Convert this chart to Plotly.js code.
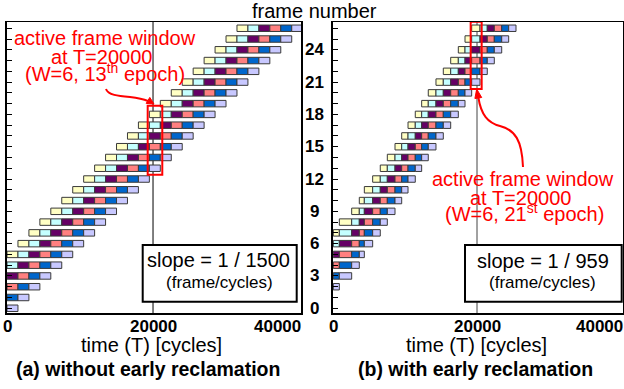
<!DOCTYPE html>
<html><head><meta charset="utf-8">
<script src="https://cdn.plot.ly/plotly-3.0.1.min.js"></script>
<style>html,body{margin:0;padding:0;background:#fff}#chart{width:624px;height:389px}</style>
</head><body><div id="chart"></div>
<script>
// ---------------- data ----------------
const phaseColors = ['#ffffc4', '#c4ffff', '#660066', '#ff8080', '#0066cc', '#c8c8ff'];
// (a) without early reclamation: frames shown and epoch boundaries (cycles)
const framesA = [0,1,2,3,4,5,6,7,8,9,10,11,12,13,14,15,16,17,18,19,20,21,22,23,24,25,26];
const epochBoundsA = [0,1500,3000,4500,6000,7500,9000,10500,12000,13500,15000,16500,18000,19500,
  21000,22500,24000,25500,27000,28500,30000,31500,33000,34500,36000,37500,39000,40500];
const firstFrameOfEpoch0A = 5;   // frame whose first phase occupies epoch 0
// (b) with early reclamation
const framesB = [2,3,4,5,6,7,8,9,10,11,12,13,14,15,16,17,18,19,20,21,22,23,24,25,26];
const epochBoundsB = [0,840,2560,3620,4320,5480,6540,7520,8590,9520,10400,11410,12300,13220,
  14290,15310,16340,17400,18330,19260,20420,21430,22410,23440,24410,25430];
const firstFrameOfEpoch0B = 7;
const markTime = 20000;
const yTickVals = [0,3,6,9,12,15,18,21,24];
const xTickVals = [0,20000,40000];
const xTickText = ['0','20000','40000'];
const slopeA = 'slope = 1 / 1500';
const slopeB = 'slope = 1 / 959';
const windowA = {lo: 12.39, hi: 18.8, t0: 19270, t1: 21270};
const windowB = {lo: 20.35, hi: 26.6, t0: 19120, t1: 20650};

// ---------------- geometry helpers ----------------
const W = 624, H = 389, mT = 22, mB = 76, PH = H - mT - mB;
const PX = p => p / W;
const PY = p => (H - mB - p) / PH;
const FONT = 'Liberation Sans, Arial, sans-serif';

function buildTraces(frames, bounds, off, xa, ya) {
  const out = [];
  for (let k = 0; k < 6; k++) {
    const ys = [], xs = [], bs = [];
    frames.forEach(f => {
      const e = f + k - off;
      if (e >= 0 && e + 1 < bounds.length) {
        ys.push(f); bs.push(bounds[e]); xs.push(bounds[e + 1] - bounds[e]);
      }
    });
    out.push({type: 'bar', orientation: 'h', y: ys, x: xs, base: bs, width: 0.6,
      xaxis: xa, yaxis: ya, showlegend: false, hoverinfo: 'skip',
      marker: {color: phaseColors[k], line: {color: '#3a3a3a', width: 1}}});
  }
  return out;
}
const data = buildTraces(framesA, epochBoundsA, firstFrameOfEpoch0A, 'x', 'y')
  .concat(buildTraces(framesB, epochBoundsB, firstFrameOfEpoch0B, 'x2', 'y2'));

function pathPx(cmds) {
  return cmds.map(c => typeof c === 'string' ? c : (PX(c[0]).toFixed(5) + ',' + PY(c[1]).toFixed(5))).join(' ');
}

const ann = [];
function txt(text, x, yBottom, size, opts) {
  ann.push(Object.assign({text: text, xref: 'paper', yref: 'paper', x: PX(x), y: PY(yBottom),
    xanchor: 'center', yanchor: 'bottom', showarrow: false,
    font: {family: FONT, size: size, color: '#000'}}, opts || {}));
}
// x tick labels
[['x', 'x'], ['x2', 'x2']].forEach(([xr]) => {
  xTickVals.forEach((v, i) => {
    const last = i === xTickVals.length - 1;
    ann.push({text: xTickText[i], xref: xr, yref: 'paper', x: v, y: PY(338),
      xanchor: last ? 'right' : 'center', xshift: last ? 4 : 0, yanchor: 'bottom', showarrow: false,
      font: {family: FONT, size: 17, weight: 'bold', color: '#000'}});
  });
});
// y tick labels (shared, between panels)
yTickVals.forEach(v => ann.push({text: String(v), xref: 'paper', yref: 'y', x: PX(314), y: v,
  xanchor: 'center', yanchor: 'middle', showarrow: false,
  font: {family: FONT, size: 17, weight: 'bold', color: '#000'}}));
txt('frame number', 314.5, 23.5, 20, {borderpad: 0});
txt('time (T) [cycles]', 151.5, 357.7, 20);
txt('time (T) [cycles]', 476, 357.7, 20);
txt('(a) without early reclamation', 148, 381.7, 19.5, {font: {family: FONT, size: 19.5, weight: 'bold', color: '#000'}});
txt('(b) with early reclamation', 475, 381.7, 19.5, {font: {family: FONT, size: 19.5, weight: 'bold', color: '#000'}});
txt(slopeA, 219, 272.7, 20);
txt('(frame/cycles)', 219.5, 294.3, 17);
txt(slopeB, 542.5, 273.7, 20);
txt('(frame/cycles)', 542, 294.3, 17);
const red = {family: FONT, size: 20, color: '#ff0000'};
txt('active frame window', 105, 50.2, 20, {font: red, borderpad: 0});
txt('at T=20000', 101, 68.5, 20, {font: red, borderpad: 0});
txt('(W=6, 13<sup>th</sup> epoch)', 105, 86.2, 20, {font: red, borderpad: 0});
txt('active frame window', 523, 191.2, 20, {font: red, borderpad: 0});
txt('at T=20000', 520.5, 210.2, 20, {font: red, borderpad: 0});
txt('(W=6, 21<sup>st</sup> epoch)', 524, 226.2, 20, {font: red, borderpad: 0});

const shapes = [
  {type: 'line', xref: 'x', yref: 'paper', x0: markTime, x1: markTime, y0: 0, y1: 1, layer: 'below', line: {color: '#000', width: 1}},
  {type: 'line', xref: 'x2', yref: 'paper', x0: markTime, x1: markTime, y0: 0, y1: 1, layer: 'below', line: {color: '#444', width: 1}},
  {type: 'rect', xref: 'paper', yref: 'paper', x0: PX(142.7), x1: PX(296.7), y0: PY(301.7), y1: PY(245), fillcolor: '#fff', line: {color: '#000', width: 2}, layer: 'above'},
  {type: 'rect', xref: 'paper', yref: 'paper', x0: PX(465), x1: PX(621.7), y0: PY(301.7), y1: PY(245), fillcolor: '#fff', line: {color: '#000', width: 2}, layer: 'above'},
  {type: 'rect', xref: 'x', yref: 'y', x0: windowA.t0, x1: windowA.t1, y0: windowA.lo, y1: windowA.hi, line: {color: '#ff0000', width: 2}, layer: 'above'},
  {type: 'rect', xref: 'x2', yref: 'y2', x0: windowB.t0, x1: windowB.t1, y0: windowB.lo, y1: windowB.hi, line: {color: '#ff0000', width: 2}, layer: 'above'},
  {type: 'path', xref: 'paper', yref: 'paper', layer: 'above', line: {color: '#ff0000', width: 2},
    path: pathPx(['M', [106, 89], 'C', [108, 95], [118, 96], [130, 97], 'C', [138, 98], [143, 99], [148, 101]])},
  {type: 'path', xref: 'paper', yref: 'paper', layer: 'above', line: {color: '#ff0000', width: 1}, fillcolor: '#ff0000',
    path: pathPx(['M', [154, 104], 'L', [146.2, 103.4], 'L', [149.8, 97.4], 'Z'])},
  {type: 'path', xref: 'paper', yref: 'paper', layer: 'above', line: {color: '#ff0000', width: 2},
    path: pathPx(['M', [523, 167], 'C', [522, 140], [515, 130], [500, 126], 'C', [488, 123], [481, 115], [478.3, 97]])},
  {type: 'path', xref: 'paper', yref: 'paper', layer: 'above', line: {color: '#ff0000', width: 1}, fillcolor: '#ff0000',
    path: pathPx(['M', [476.7, 89], 'L', [481.7, 97.5], 'L', [474.9, 98.5], 'Z'])}
];

const axX = {showline: true, mirror: true, linecolor: '#000', linewidth: 1.5, showgrid: false, zeroline: false,
  ticks: '', showticklabels: false, fixedrange: true};
const axY = {showline: true, mirror: true, linecolor: '#000', linewidth: 1.5, showgrid: false, zeroline: false,
  ticks: 'inside', ticklen: 5, tickwidth: 1, tickcolor: '#000', tick0: 0, dtick: 1, showticklabels: false,
  range: [-0.44, 26.58], fixedrange: true};

const layout = {
  width: W, height: H, margin: {l: 0, r: 0, t: mT, b: mB, autoexpand: false},
  paper_bgcolor: '#fff', plot_bgcolor: '#fff', barmode: 'overlay', showlegend: false,
  font: {family: FONT},
  xaxis: Object.assign({}, axX, {domain: [6.5 / W, 301 / W], range: [-70, 40270], anchor: 'y'}),
  yaxis: Object.assign({}, axY, {anchor: 'x'}),
  xaxis2: Object.assign({}, axX, {domain: [332.5 / W, 622.5 / W], range: [-110, 40250], anchor: 'y2'}),
  yaxis2: Object.assign({}, axY, {anchor: 'x2'}),
  shapes: shapes, annotations: ann
};
Plotly.newPlot('chart', data, layout, {staticPlot: true, displayModeBar: false});
</script></body></html>
